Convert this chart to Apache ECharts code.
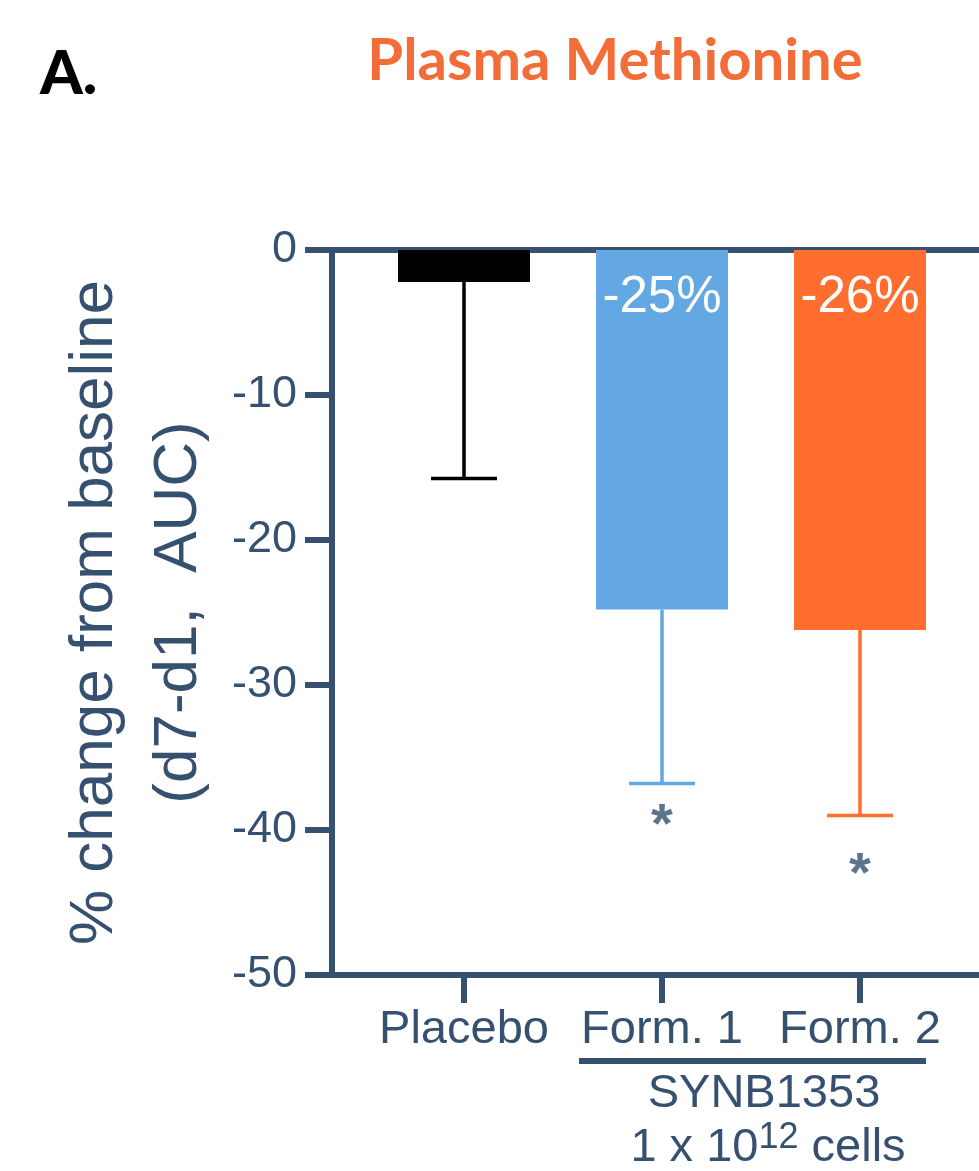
<!DOCTYPE html>
<html><head><meta charset="utf-8">
<script src="https://cdn.jsdelivr.net/npm/echarts@6/dist/echarts.min.js"></script>
<style>html,body{margin:0;padding:0;background:#fff}#c{width:979px;height:1171px}</style>
</head><body><div id="c"></div>
<script>
// ---- data ----
const categories = ['Placebo', 'Form. 1', 'Form. 2'];
const meanChange = [-2.2, -24.8, -26.2];
const errorLow = [-15.75, -36.8, -39.0];
const barLabels = ['', '-25%', '-26%'];
const starY = [null, -38.8, -42.2];
const yTicks = [-50, -40, -30, -20, -10, 0];
const barColors = ['#000000', '#63a8e2', '#ff6d2f'];

const AXIS = '#36516f';
const FONT = '"Liberation Sans", Arial, sans-serif';
// padded slot axis so bars sit at the reference's offsets from the y axis
const LEAD = 2, STEP = 3, SLOTS = 11;
const slotData = Array.from({length: SLOTS}, () => '');
const slotIndex = categories.map((c, i) => LEAD + i * STEP);
slotIndex.forEach((s, i) => { slotData[s] = categories[i]; });
const barData = new Array(SLOTS).fill(null);
slotIndex.forEach((s, i) => {
  barData[s] = {
    value: meanChange[i],
    itemStyle: {color: barColors[i]},
    label: {show: !!barLabels[i], formatter: barLabels[i]}
  };
});
const errData = slotIndex.map((s, i) => [s, meanChange[i], errorLow[i], i]);
const starData = slotIndex.map((s, i) => [s, starY[i]]).filter(d => d[1] !== null);

const chart = echarts.init(document.getElementById('c'), null, {renderer: 'canvas'});
chart.setOption({
  animation: false,
  backgroundColor: '#fff',
  grid: {left: 332, top: 250, bottom: 196, width: 660, containLabel: false, outerBoundsMode: 'none'},
  xAxis: [{
    type: 'category', data: slotData, boundaryGap: false, position: 'bottom',
    axisLine: {onZero: false, lineStyle: {color: AXIS, width: 6}},
    axisTick: {length: 28, lineStyle: {color: AXIS, width: 6}, interval: (idx, v) => v !== ''},
    axisLabel: {interval: (idx, v) => v !== '', color: AXIS, fontFamily: FONT, fontSize: 47, margin: 32},
    splitLine: {show: false}
  }, {
    type: 'category', data: slotData, boundaryGap: false, position: 'top',
    axisLine: {onZero: false, lineStyle: {color: AXIS, width: 6}},
    axisTick: {show: false}, axisLabel: {show: false}, splitLine: {show: false}
  }],
  yAxis: {
    type: 'value', min: yTicks[0], max: yTicks[yTicks.length - 1], interval: 10,
    axisLine: {show: true, lineStyle: {color: AXIS, width: 6}},
    axisTick: {show: true, length: 27, lineStyle: {color: AXIS, width: 6}},
    axisLabel: {color: AXIS, fontFamily: FONT, fontSize: 45, margin: 35},
    splitLine: {show: false},
    name: '% change from baseline\n(d7-d1,  AUC)',
    nameLocation: 'middle', nameGap: 94, nameRotate: 90,
    nameTextStyle: {color: AXIS, fontFamily: FONT, fontSize: 62, lineHeight: 84}
  },
  series: [{
    type: 'bar', data: barData, barWidth: 132, xAxisIndex: 0,
    label: {position: 'insideTop', distance: 22, color: '#fff', fontFamily: FONT, fontSize: 51}
  }, {
    type: 'custom', data: errData, xAxisIndex: 0, z: 3,
    renderItem: function (params, api) {
      const x = api.value(0);
      const top = api.coord([x, api.value(1)]);
      const bot = api.coord([x, api.value(2)]);
      const i = api.value(3);
      const half = api.size([1, 0])[0] / 2;
      const style = {stroke: barColors[i], lineWidth: 3.5};
      return {type: 'group', children: [
        {type: 'line', shape: {x1: top[0], y1: top[1], x2: bot[0], y2: bot[1]}, style: style},
        {type: 'line', shape: {x1: bot[0] - half, y1: bot[1], x2: bot[0] + half, y2: bot[1]}, style: style}
      ]};
    }
  }, {
    type: 'scatter', data: starData, xAxisIndex: 0, symbolSize: 1,
    itemStyle: {color: 'rgba(0,0,0,0)'},
    label: {show: true, position: 'inside', formatter: '*', color: AXIS, fontFamily: FONT, fontWeight: 'bold', fontSize: 56, offset: [0, 14]}
  }]
});

const px1 = chart.convertToPixel({xAxisIndex: 0}, slotIndex[1]);
const px2 = chart.convertToPixel({xAxisIndex: 0}, slotIndex[2]);
const x1 = Array.isArray(px1) ? px1[0] : px1;
const x2 = Array.isArray(px2) ? px2[0] : px2;
const mid = (x1 + x2) / 2 + 3;

chart.setOption({
  graphic: [
    {type: 'text', left: 40, top: 44, style: {text: 'A.', font: '900 61px Lato, sans-serif', fill: '#000'}},
    {type: 'text', x: 615, y: 32, style: {text: 'Plasma Methionine', font: 'bold 58px Lato, sans-serif', fill: '#f26d37', textAlign: 'center', textVerticalAlign: 'top'}},
    {type: 'line', shape: {x1: x1 - 83, y1: 1061, x2: x2 + 66, y2: 1061}, style: {stroke: AXIS, lineWidth: 6}},
    {type: 'text', x: mid, y: 1094, style: {text: 'SYNB1353', font: '47px ' + FONT, fill: AXIS, textAlign: 'center', textVerticalAlign: 'middle'}},
    {type: 'text', x: mid + 4, y: 1146, style: {
      text: '{a|1 x 10}{s|12}{a| cells}', textAlign: 'center', textVerticalAlign: 'middle',
      rich: {
        a: {fontFamily: FONT, fontSize: 47, fill: AXIS, color: AXIS, lineHeight: 52, verticalAlign: 'bottom'},
        s: {fontFamily: FONT, fontSize: 36, fill: AXIS, color: AXIS, lineHeight: 52, verticalAlign: 'top'}
      }
    }}
  ]
});
</script></body></html>
